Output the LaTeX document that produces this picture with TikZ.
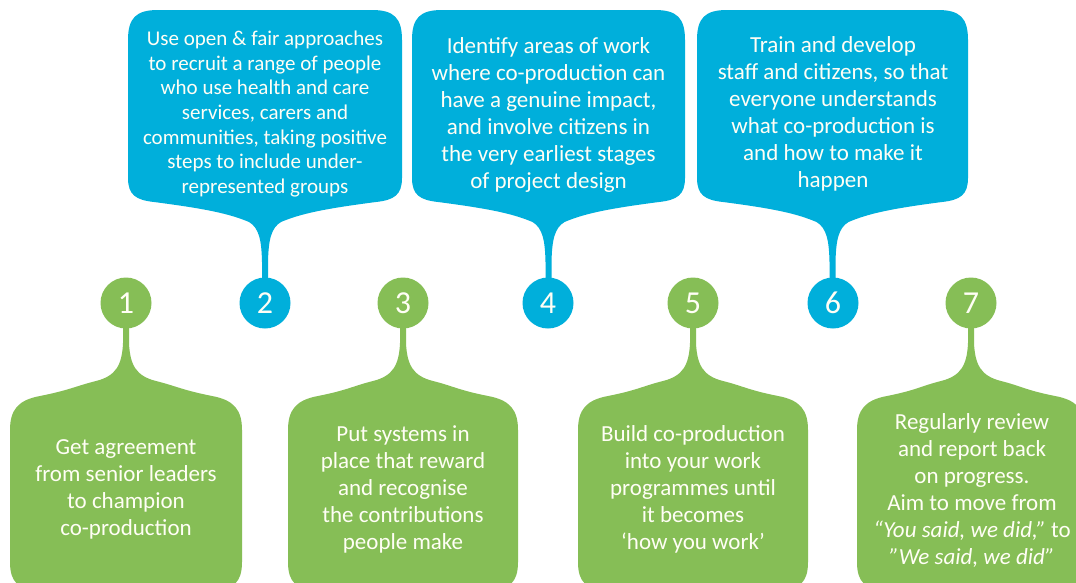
\documentclass[tikz,border=0pt]{standalone}
\usepackage{fontspec}
\setmainfont{Carlito}
\definecolor{cblue}{RGB}{0,175,219}
\definecolor{cgreen}{RGB}{134,190,86}
\definecolor{ctext}{RGB}{255,254,245}
\tikzset{
  numcirc/.style={circle, minimum size=51pt, inner sep=0pt, text=ctext, font=\fontsize{32}{32}\selectfont},
  boxtext/.style={text=ctext, align=center, inner sep=0pt, font=\fontsize{23}{27}\selectfont},
  smalltext/.style={boxtext, font=\fontsize{21}{24.6}\selectfont},
}
\newcommand\bluebubble[2]{%
  \begin{scope}[shift={(#1,0)}]
    \fill[cblue] ({-#2},40) .. controls ({-#2},18) and ({-#2+8},10) .. ({-#2+30},10)
      -- ({#2-30},10) .. controls ({#2-8},10) and ({#2},18) .. ({#2},40)
      -- ({#2},178) .. controls ({#2},195) and ({#2-8},200) .. ({#2-26},202)
      .. controls ({#2-80},209) and (35,214) .. (16,222)
      .. controls (6,228) and (3.5,240) .. (3,262)
      -- (3,292) -- (-3,292) -- (-3,262)
      .. controls (-3.5,240) and (-6,228) .. (-16,222)
      .. controls (-35,214) and ({-#2+80},209) .. ({-#2+26},202)
      .. controls ({-#2+8},200) and ({-#2},195) .. ({-#2},178) -- cycle;
  \end{scope}}
\newcommand\greenbubble[2]{%
  \begin{scope}[shift={(#1,0)}]
    \fill[cgreen] (-3,315) -- (3,315) -- (3,343)
      .. controls (4,365) and (10,376) .. (30,381)
      .. controls (50,386) and ({#2-60},390) .. ({#2-30},396)
      .. controls ({#2-8},400) and ({#2},410) .. ({#2},430)
      -- ({#2},562) .. controls ({#2},582) and ({#2-8},590) .. ({#2-30},590)
      -- ({-#2+30},590) .. controls ({-#2+8},590) and ({-#2},582) .. ({-#2},562)
      -- ({-#2},430) .. controls ({-#2},410) and ({-#2+8},400) .. ({-#2+30},396)
      .. controls ({-#2+60},390) and (-50,386) .. (-30,381)
      .. controls (-10,376) and (-4,365) .. (-3,343) -- cycle;
  \end{scope}}
\begin{document}
\begin{tikzpicture}[x=1pt,y=-1pt]
\useasboundingbox (0,0) rectangle (1076,582);
\clip (0,0) rectangle (1076,582);
\fill[white] (0,0) rectangle (1076,582);
% bubbles
\bluebubble{265}{137}
\bluebubble{548.5}{136.5}
\bluebubble{832.5}{135.5}
\greenbubble{126}{116}
\greenbubble{403}{115}
\greenbubble{693}{115}
\greenbubble{971}{114}
% circles
\node[numcirc, fill=cgreen] (c1) at (126,303) {1};
\node[numcirc, fill=cblue]  (c2) at (265,303) {2};
\node[numcirc, fill=cgreen] (c3) at (403,303) {3};
\node[numcirc, fill=cblue]  (c4) at (548,303) {4};
\node[numcirc, fill=cgreen] (c5) at (693,303) {5};
\node[numcirc, fill=cblue]  (c6) at (833,303) {6};
\node[numcirc, fill=cgreen] (c7) at (971,303) {7};
% texts
\node[smalltext] (t2) at (265,114) {Use open \& fair approaches\\to recruit a range of people\\who use health and care\\services, carers and\\communities, taking positive\\steps to include under-\\represented groups};
\node[boxtext] (t4) at (548.5,114.5) {Identify areas of work\\where co-production can\\have a genuine impact,\\and involve citizens in\\the very earliest stages\\of project design};
\node[boxtext] (t6) at (833,113.5) {Train and develop\\staff and citizens, so that\\everyone understands\\what co-production is\\and how to make it\\happen};
\node[boxtext] (t1) at (126,489) {Get agreement\\from senior leaders\\to champion\\co-production};
\node[boxtext] (t3) at (403,489) {Put systems in\\place that reward\\and recognise\\the contributions\\people make};
\node[boxtext] (t5) at (693,489) {Build co-production\\into your work\\programmes until\\it becomes\\‘how you work’};
\node[boxtext] (t7) at (972,490) {Regularly review\\and report back\\on progress.\\Aim to move from\\\textit{“You said, we did,”} to\\\textit{”We said, we did”}};
\end{tikzpicture}
\end{document}
